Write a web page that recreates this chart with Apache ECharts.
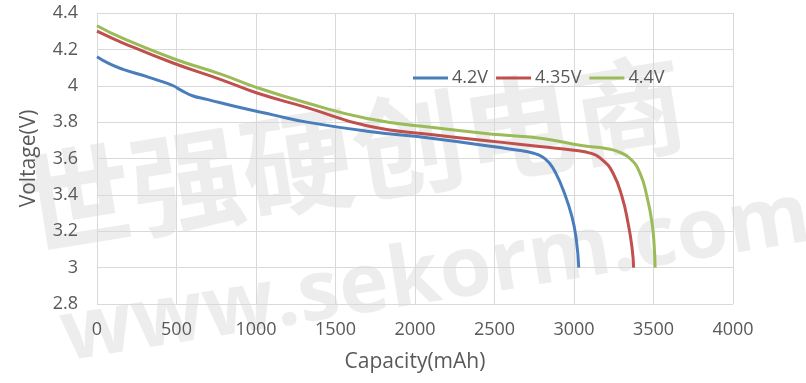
<!DOCTYPE html>
<html><head><meta charset="utf-8">
<script src="https://cdn.jsdelivr.net/npm/echarts@6/dist/echarts.min.js"></script>
<style>html,body{margin:0;padding:0;background:#fff}#c{width:806px;height:383px}</style>
</head><body><div id="c"></div>
<script>
const seriesNames = ['4.2V', '4.35V', '4.4V'];
const cap42  = [0, 80, 164, 314, 420, 480, 530, 600, 692, 899, 1107, 1321, 1698, 2113, 2535, 2650, 2740, 2800, 2845, 2885, 2931, 2987, 3015, 3030];
const volt42 = [4.16, 4.12, 4.09, 4.05, 4.02, 4.00, 3.975, 3.945, 3.925, 3.88, 3.84, 3.80, 3.75, 3.71, 3.66, 3.645, 3.63, 3.61, 3.575, 3.52, 3.43, 3.28, 3.15, 3.0];
const cap435  = [0, 164, 478, 792, 1006, 1321, 1698, 2113, 2535, 2800, 3000, 3101, 3182, 3245, 3302, 3340, 3365, 3375];
const volt435 = [4.30, 4.235, 4.125, 4.03, 3.96, 3.88, 3.78, 3.73, 3.69, 3.665, 3.645, 3.63, 3.59, 3.52, 3.39, 3.245, 3.11, 3.0];
const cap44  = [0, 164, 478, 792, 1006, 1321, 1698, 2113, 2535, 2800, 3057, 3200, 3270, 3352, 3415, 3459, 3491, 3505, 3510];
const volt44 = [4.33, 4.26, 4.15, 4.06, 3.99, 3.905, 3.82, 3.77, 3.73, 3.71, 3.67, 3.655, 3.64, 3.60, 3.52, 3.39, 3.245, 3.11, 3.0];
const colors = ['#4a7ebb', '#c0504d', '#9bbb59'];
const xTitle = 'Capacity(mAh)';
const yTitle = 'Voltage(V)';
const watermark1 = '世强硬创电商';
const watermark2 = 'www.sekorm.com';

const zip = (a, b) => a.map((v, i) => [v, b[i]]);
const data = [zip(cap42, volt42), zip(cap435, volt435), zip(cap44, volt44)];
const font = '"Open Sans", sans-serif';
const chart = echarts.init(document.getElementById('c'), null, {renderer: 'canvas'});
chart.setOption({
  animation: false,
  backgroundColor: '#fff',
  grid: {left: 97, right: 73, top: 13, bottom: 79, containLabel: false},
  graphic: [
    {type: 'text', left: 12, top: 45, rotation: 0.16, z: -10, silent: true,
     style: {text: watermark1, font: 'bold 112px "Noto Sans CJK SC"', fill: '#000', opacity: 0.07}},
    {type: 'text', left: 55, top: 175, rotation: 0.16, z: -10, silent: true,
     style: {text: watermark2, font: 'bold 84px "Open Sans", sans-serif', fill: '#000', opacity: 0.07}}
  ],
  legend: {
    data: seriesNames, left: 413, top: 69, itemWidth: 35, itemHeight: 3, itemGap: 8, icon: 'rect',
    padding: 0,
    textStyle: {color: '#595959', fontSize: 18, fontFamily: font, padding: [0, 0, 0, -1]}
  },
  xAxis: {
    type: 'value', min: 0, max: 4000, interval: 500,
    name: xTitle, nameLocation: 'middle', nameGap: 48,
    nameTextStyle: {color: '#595959', fontSize: 21, fontFamily: font},
    axisLine: {show: false}, axisTick: {show: false},
    axisLabel: {color: '#595959', fontSize: 18, fontFamily: font, margin: 17,
      formatter: v => String(v)},
    splitLine: {show: true, lineStyle: {color: '#d9d9d9', width: 1}}
  },
  yAxis: {
    type: 'value', min: 2.8, max: 4.4, interval: 0.2,
    name: yTitle, nameLocation: 'middle', nameGap: 57,
    nameTextStyle: {color: '#595959', fontSize: 21, fontFamily: font},
    axisLine: {show: false}, axisTick: {show: false},
    axisLabel: {color: '#595959', fontSize: 18, fontFamily: font, margin: 19,
      formatter: v => String(+v.toFixed(1))},
    splitLine: {show: true, lineStyle: {color: '#d9d9d9', width: 1}}
  },
  series: data.map((d, i) => ({
    name: seriesNames[i], type: 'line', data: d, smooth: 0.5, symbol: 'none',
    lineStyle: {color: colors[i], width: 3}, itemStyle: {color: colors[i]}
  }))
});
</script></body></html>
